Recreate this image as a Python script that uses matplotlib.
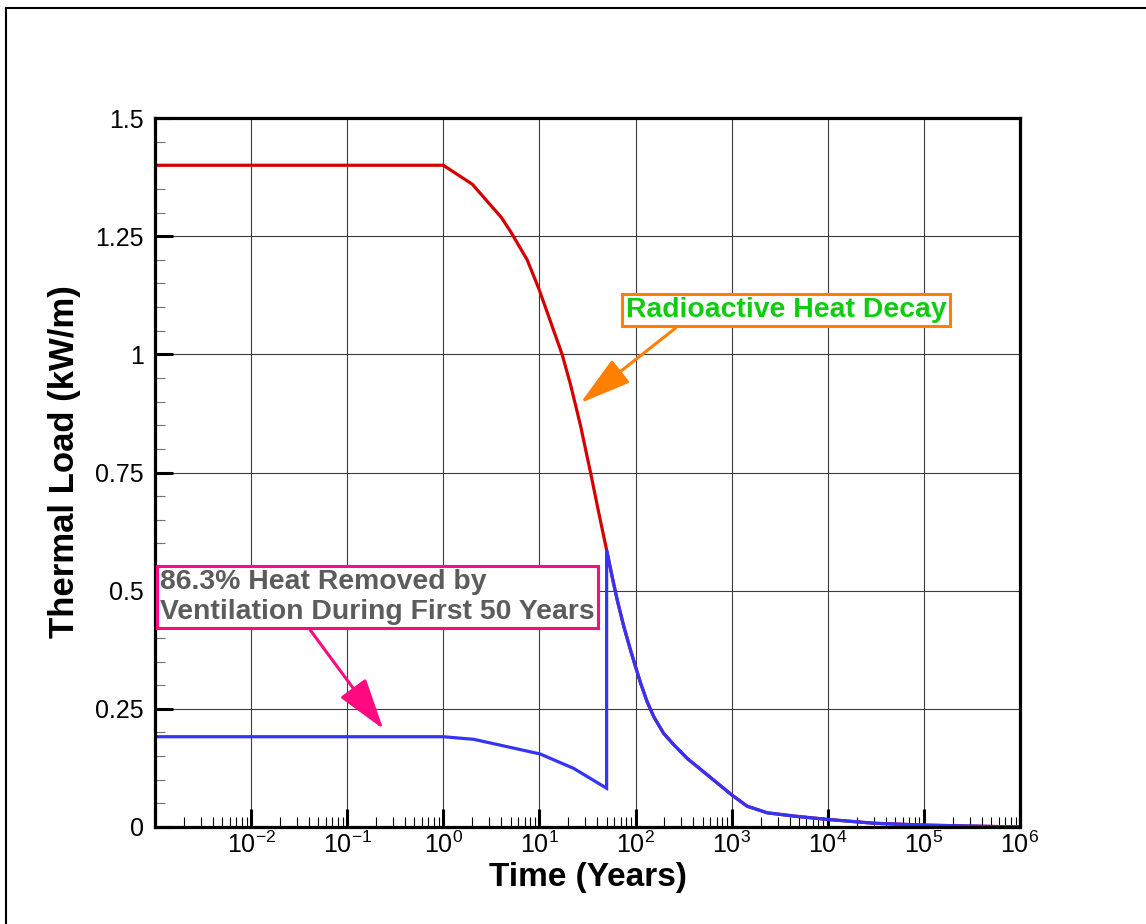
"""Carga termica no repositorio: decaimento radioativo vs. remocao por ventilacao."""
import math

import matplotlib
matplotlib.use('Agg')  # sem display
import matplotlib.pyplot as plt  # noqa: E402
from matplotlib.lines import Line2D  # noqa: E402
from matplotlib.ticker import (FuncFormatter, LogLocator,  # noqa: E402
                               MultipleLocator, NullFormatter)

plt.rcParams.update({
    'font.family': ['Liberation Sans', 'DejaVu Sans'],
    'mathtext.fontset': 'custom',
    'mathtext.rm': 'Liberation Sans',
    'mathtext.it': 'Liberation Sans:italic',
    'mathtext.bf': 'Liberation Sans:bold',
    'mathtext.default': 'regular',
})

# Calor de decaimento ate o fim da ventilacao (50 anos)
decay_years = [1e-3, 1, 2, 4, 5, 7.45, 9.8, 13, 17.2, 21, 26.7, 34, 41.5, 50]
decay_load = [1.40, 1.40, 1.36, 1.29, 1.26, 1.20, 1.14, 1.07, 1.00, 0.937,
              0.85, 0.75, 0.664, 0.586]

# Apos o fechamento todo o calor fica na rocha (curvas coincidem)
tail_years = [50, 57, 64.5, 75.5, 88.7, 100, 113, 132, 155, 196, 250, 345,
              560, 1000, 1450, 2350, 4500, 1e4, 3e4, 1e5, 1e6]
tail_load = [0.586, 0.53, 0.48, 0.424, 0.374, 0.339, 0.304, 0.265, 0.233,
             0.198, 0.174, 0.145, 0.110, 0.068, 0.044, 0.030, 0.023, 0.016,
             0.008, 0.004, 0.0]

# Parcela que fica na rocha enquanto a ventilacao opera
vent_years = [1e-3, 1, 2.07, 4.6, 10.2, 22.7, 50]
vent_load = [0.191, 0.191, 0.1855, 0.170, 0.1544, 0.124, 0.082]

y_ticks = [0, 0.25, 0.5, 0.75, 1, 1.25, 1.5]
y_ticklabels = ['0', '0.25', '0.5', '0.75', '1', '1.25', '1.5']

RED = '#d40000'
BLUE = '#3434f8'
PINK = '#ff0a80'
ORANGE = '#ff8000'
GREEN = '#10cc10'
GRAY_TXT = '#5c5c5c'


def log_label(val, pos):
    exp = int(round(math.log10(val)))
    if exp == -3:
        return ''  # canto do eixo fica sem rotulo
    return r'$\mathregular{10^{%d}}$' % exp


fig = plt.figure(figsize=(11.46, 9.24), dpi=100)
ax = fig.add_axes([155 / 1146, 1 - 827 / 924, 865 / 1146, 709 / 924])

ax.plot(decay_years + tail_years[1:], decay_load + tail_load[1:],
        color=RED, lw=2.3, zorder=3, solid_joinstyle='round')
ax.plot(vent_years + tail_years, vent_load + tail_load,
        color=BLUE, lw=2.3, zorder=4, solid_joinstyle='miter')

ax.set_xscale('log')
ax.set_xlim(1e-3, 1e6)
ax.set_ylim(0, 1.5)

ax.xaxis.set_major_locator(LogLocator(base=10, numticks=20))
ax.xaxis.set_minor_locator(LogLocator(base=10, subs=range(2, 10), numticks=20))
ax.xaxis.set_major_formatter(FuncFormatter(log_label))
ax.xaxis.set_minor_formatter(NullFormatter())
ax.set_yticks(y_ticks)
ax.set_yticklabels(y_ticklabels)
ax.yaxis.set_minor_locator(MultipleLocator(0.05))

ax.tick_params(which='major', direction='in', length=13, width=2.2,
               labelsize=18, colors='black')
ax.tick_params(axis='x', which='major', pad=3)
ax.tick_params(axis='y', which='major', pad=8)
ax.tick_params(axis='x', which='minor', direction='in', length=7, width=0.8,
               color='black')
ax.tick_params(axis='y', which='minor', direction='in', length=7, width=0.8,
               color='#707070')
for sp in ax.spines.values():
    sp.set_linewidth(2.3)
    sp.set_zorder(6)

ax.grid(True, which='major', color='#3c3c3c', lw=0.8, zorder=1)
ax.set_axisbelow(True)

ax.set_xlabel('Time (Years)', fontsize=24, fontweight='bold', va='top')
ax.xaxis.set_label_coords(0.5, -0.049)
ax.set_ylabel('Thermal Load (kW/m)', fontsize=25, fontweight='bold')
ax.yaxis.set_label_coords(-0.085, 0.516)

# Caixas de texto e setas
ax.text(1.127e-3, 0.4866, '86.3% Heat Removed by\nVentilation During First 50 Years',
        fontsize=20.4, fontweight='bold', color=GRAY_TXT, ha='left', va='center',
        linespacing=1.2, zorder=7,
        bbox=dict(boxstyle='square,pad=0.12', fc='white', ec=PINK, lw=2.2))
ax.annotate('', xy=(0.237, 0.2073), xytext=(0.0412, 0.4168), zorder=7,
            arrowprops=dict(arrowstyle='-|>,head_length=32,head_width=10',
                            mutation_scale=1, color=PINK, lw=2.2,
                            shrinkA=0, shrinkB=0))

ax.text(78.7, 1.0937, 'Radioactive Heat Decay', fontsize=20.4, fontweight='bold',
        color=GREEN, ha='left', va='center', zorder=7,
        bbox=dict(boxstyle='square,pad=0.12', fc='white', ec=ORANGE, lw=2.2))
ax.annotate('', xy=(26.7, 0.897), xytext=(261, 1.0556), zorder=7,
            arrowprops=dict(arrowstyle='-|>,head_length=32,head_width=9',
                            mutation_scale=1, color=ORANGE, lw=2.2,
                            shrinkA=0, shrinkB=0))

# moldura da figura (esquerda e topo)
fig.add_artist(Line2D([6 / 1146, 6 / 1146], [0, 1 - 8 / 924],
                      transform=fig.transFigure, color='black', lw=1.5))
fig.add_artist(Line2D([6 / 1146, 1], [1 - 8 / 924, 1 - 8 / 924],
                      transform=fig.transFigure, color='black', lw=1.5))

fig.savefig('out.png', dpi=100)
plt.close(fig)
